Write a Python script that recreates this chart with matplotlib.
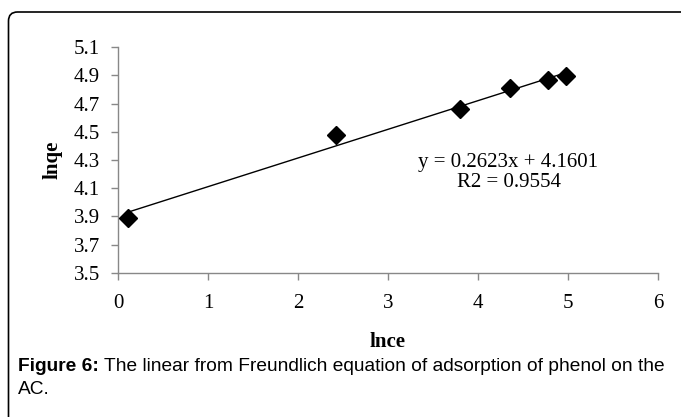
import matplotlib
matplotlib.use("Agg")
import matplotlib.pyplot as plt
import numpy as np
from matplotlib.patches import FancyBboxPatch

# valores
lnce = [0.11, 2.42, 3.80, 4.36, 4.78, 4.98]
lnqe = [3.89, 4.48, 4.66, 4.81, 4.865, 4.895]
x_ticks = [0, 1, 2, 3, 4, 5, 6]
y_ticks = [3.5, 3.7, 3.9, 4.1, 4.3, 4.5, 4.7, 4.9, 5.1]

SERIF = "Liberation Serif"
SANS = "Liberation Sans"
FS = 15
FS_CAP = 13.8

fig = plt.figure(figsize=(6.81, 4.17), dpi=100)
ax = fig.add_axes([0.1733, 0.346, 0.7929, 0.541])

# linha de tendência (ajuste linear)
a, b = np.polyfit(lnce, lnqe, 1)
xs = np.array([min(lnce), max(lnce)])
ax.plot(xs, a * xs + b, color="black", lw=1.0, zorder=2)
ax.plot(lnce, lnqe, "D", color="black", ms=9, zorder=3)

ax.set_xlim(0, 6)
ax.set_ylim(3.5, 5.1)
ax.set_xticks(x_ticks)
ax.set_yticks(y_ticks)
ax.set_xticklabels([str(t) for t in x_ticks], family=SERIF, fontsize=FS)
ax.set_yticklabels([f"{t:.1f}" for t in y_ticks], family=SERIF, fontsize=FS)
ax.tick_params(axis="y", direction="out", length=5, color="#888888", width=1, pad=8)
ax.tick_params(axis="x", direction="out", length=5, color="#888888", width=1, pad=10)
for s in ["top", "right"]:
    ax.spines[s].set_visible(False)
for s in ["left", "bottom"]:
    ax.spines[s].set_color("#888888")
    ax.spines[s].set_linewidth(1)

ax.set_xlabel("lnce", family=SERIF, fontweight="bold", fontsize=FS, labelpad=14)
ax.set_ylabel("lnqe", family=SERIF, fontweight="bold", fontsize=FS, labelpad=8)

ax.text(0.722, 0.49, "y = 0.2623x + 4.1601", transform=ax.transAxes,
        family=SERIF, fontsize=FS, ha="center", va="center")
ax.text(0.725, 0.40, "R2 = 0.9554", transform=ax.transAxes,
        family=SERIF, fontsize=FS, ha="center", va="center")

# moldura arredondada (coordenadas em pixels)
moldura = FancyBboxPatch((8.5, -30), 720, 405 + 30, transform=None,
                         boxstyle="round,pad=0,rounding_size=9",
                         fill=False, edgecolor="black", lw=1.2)
fig.patches.append(moldura)

# legenda da figura: parte em negrito + resto normal
t1 = fig.text(18 / 681, 1 - 371 / 417, "Figure 6:", family=SANS,
              fontweight="bold", fontsize=FS_CAP, va="baseline")
fig.add_artist(plt.Annotation(
    " The linear from Freundlich equation of adsorption of phenol on the",
    xy=(1, 0), xycoords=t1, va="bottom", ha="left",
    family=SANS, fontsize=FS_CAP))
fig.text(18 / 681, 1 - 394 / 417, "AC.", family=SANS, fontsize=FS_CAP, va="baseline")

fig.savefig("out.png", dpi=100)
